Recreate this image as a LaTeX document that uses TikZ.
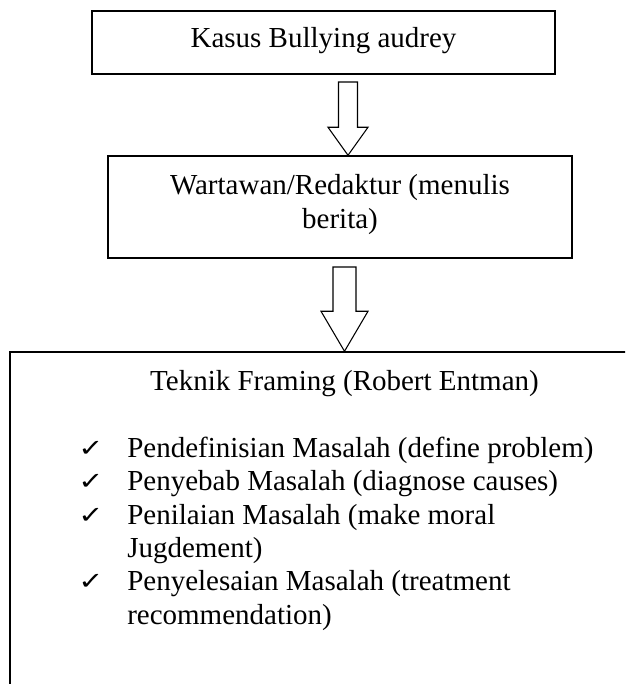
\documentclass[tikz,border=0pt]{standalone}
\usepackage{fontspec}
\usepackage{graphicx}
\setmainfont{Liberation Serif}
\newfontfamily\symfont{DejaVu Sans}
\usetikzlibrary{fit,calc}
\newcommand{\mycheck}{\scalebox{1.25}[1]{✓}}
\begin{document}
\begin{tikzpicture}[x=0.75pt,y=-0.75pt,
  boxline/.style={draw=black, line width=1.1pt, inner sep=0pt},
  txt/.style={font=\fontsize{21.75}{25}\selectfont, inner sep=0pt, anchor=base},
  litem/.style={txt, anchor=base west},
  blockarrow/.style={draw=black, line width=0.8pt, fill=white, line join=miter},
  chk/.style={font=\symfont\fontsize{18}{22}\selectfont, inner sep=0pt, anchor=base west}]
\useasboundingbox (0,0) rectangle (625,684);
\fill[white] (0,0) rectangle (625,684);
\clip (0,0) rectangle (625,684);
% boxes
\node[boxline, fit={(92,11) (555,74)}] (b1) {};
\node[boxline, fit={(108,156) (572,258)}] (b2) {};
\node[boxline, fit={(10,352) (679,760)}] (b3) {};
% arrow 1
\coordinate (a1s) at (348,82);
\coordinate (a1t) at (b2.north -| a1s);
\draw[blockarrow] ($(a1s)+(-9.5,0)$) -- ($(a1s)+(9.5,0)$) -- ($(a1t)+(9.5,-28)$) -- ($(a1t)+(20,-28)$) -- (a1t) -- ($(a1t)+(-20,-28)$) -- ($(a1t)+(-9.5,-28)$) -- cycle;
% arrow 2
\coordinate (a2s) at (344.5,267);
\coordinate (a2t) at (b3.north -| a2s);
\draw[blockarrow] ($(a2s)+(-11.5,0)$) -- ($(a2s)+(11.5,0)$) -- ($(a2t)+(11.5,-40)$) -- ($(a2t)+(23.5,-40)$) -- (a2t) -- ($(a2t)+(-23.5,-40)$) -- ($(a2t)+(-11.5,-40)$) -- cycle;
% texts
\node[txt] (t1) at (323.5,48) {Kasus Bullying audrey};
\node[txt] (t2a) at (340,195) {Wartawan/Redaktur (menulis};
\node[txt] (t2b) at (340,228) {berita)};
\node[txt] (t3) at (344.5,390) {Teknik Framing (Robert Entman)};
\node[litem] (l1) at (127,457) {Pendefinisian Masalah (define problem)};
\node[litem] (l2) at (127,490) {Penyebab Masalah (diagnose causes)};
\node[litem] (l3) at (127,524) {Penilaian Masalah (make moral};
\node[litem] (l3b) at (127,557) {Jugdement)};
\node[litem] (l4) at (127,590) {Penyelesaian Masalah (treatment};
\node[litem] (l4b) at (127,624) {recommendation)};
\node[chk] (c1) at (78,456) {\mycheck};
\node[chk] (c2) at (78,489) {\mycheck};
\node[chk] (c3) at (78,523) {\mycheck};
\node[chk] (c4) at (78,589) {\mycheck};
\end{tikzpicture}
\end{document}
